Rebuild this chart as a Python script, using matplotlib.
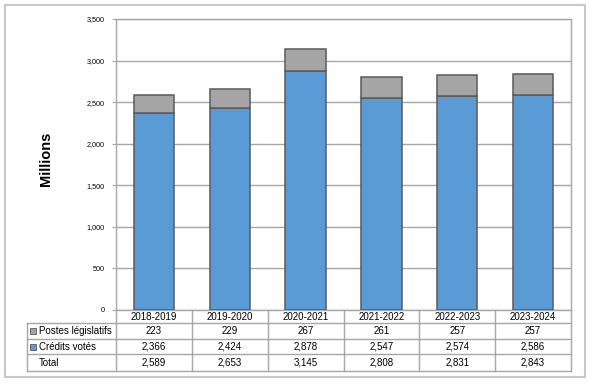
import matplotlib
matplotlib.use("Agg")
import matplotlib.pyplot as plt
from matplotlib.patches import Rectangle
from matplotlib.lines import Line2D
import numpy as np

plt.rcParams['font.family'] = ['Liberation Sans', 'DejaVu Sans']

years = ["2018-2019", "2019-2020", "2020-2021", "2021-2022", "2022-2023", "2023-2024"]
postes = [223, 229, 267, 261, 257, 257]
credits = [2366, 2424, 2878, 2547, 2574, 2586]
totals = [2589, 2653, 3145, 2808, 2831, 2843]
row_labels = ["Postes législatifs", "Crédits votés", "Total"]
yticks = [0, 500, 1000, 1500, 2000, 2500, 3000, 3500]

BLUE = "#5B9BD5"
GRAY = "#A5A5A5"
EDGE = "#5a5a5a"
LINE = "#a6a6a6"

W, H = 592, 384
fig = plt.figure(figsize=(W / 100, H / 100), dpi=100)

def fx(p):
    return p / W

def fy(p):
    return 1 - p / H

# outer frame
fig.patches.append(Rectangle((fx(5), fy(377)), fx(580), 372 / H, transform=fig.transFigure,
                             fill=False, edgecolor="#c8c8c8", linewidth=1.5))

L, R, T, B = 116, 571, 19, 310
ax = fig.add_axes([fx(L), fy(B), fx(R - L), (B - T) / H])
x = np.arange(len(years))
ax.bar(x, credits, width=0.53, color=BLUE, edgecolor=EDGE, linewidth=1.1, zorder=3)
ax.bar(x, postes, bottom=credits, width=0.53, color=GRAY, edgecolor=EDGE, linewidth=1.1, zorder=3)
ax.set_xlim(-0.5, len(years) - 0.5)
ax.set_ylim(0, 3500)
ax.set_yticks(yticks)
ax.set_yticklabels([f"{v:,}" for v in yticks], fontsize=5.2)
ax.tick_params(axis='y', length=3, color=LINE, width=0.8, pad=5)
ax.set_xticks([])
ax.yaxis.grid(True, color=LINE, linewidth=1.0, zorder=0)
for s in ax.spines.values():
    s.set_color(LINE)
    s.set_linewidth(1.0)
ax.set_ylabel("Millions", fontsize=10.5, fontweight='bold')
ax.yaxis.set_label_coords((53 - L) / (R - L), 0.52)

# table
cw = (R - L) / len(years)
rows_y = [310, 323, 339, 354, 371]
tc = fig.transFigure
lkw = dict(color=LINE, linewidth=1.0, transform=tc)
fig.add_artist(Line2D([fx(L), fx(R)], [fy(rows_y[1])] * 2, **lkw))
fig.add_artist(Line2D([fx(27), fx(L)], [fy(rows_y[1])] * 2, **lkw))
for yy in rows_y[2:]:
    fig.add_artist(Line2D([fx(27), fx(R)], [fy(yy)] * 2, **lkw))
fig.add_artist(Line2D([fx(27), fx(27)], [fy(rows_y[1]), fy(rows_y[-1])], **lkw))
for i in range(len(years) + 1):
    xx = L + i * cw
    fig.add_artist(Line2D([fx(xx), fx(xx)], [fy(rows_y[0]), fy(rows_y[-1])], **lkw))

fs = 7
for i, yr in enumerate(years):
    cx = L + (i + 0.5) * cw
    fig.text(fx(cx), fy((rows_y[0] + rows_y[1]) / 2), yr, ha='center', va='center', fontsize=fs)
    for r, vals in enumerate([postes, credits, totals]):
        cy = (rows_y[r + 1] + rows_y[r + 2]) / 2
        fig.text(fx(cx), fy(cy), f"{vals[i]:,}", ha='center', va='center', fontsize=fs)

sq_colors = [GRAY, BLUE, None]
for r, lab in enumerate(row_labels):
    cy = (rows_y[r + 1] + rows_y[r + 2]) / 2
    if sq_colors[r] is not None:
        fig.patches.append(Rectangle((fx(30), fy(cy + 3)), 6 / W, 6 / H, transform=tc,
                                     facecolor=sq_colors[r], edgecolor=EDGE, linewidth=0.6))
    fig.text(fx(39), fy(cy), lab, ha='left', va='center', fontsize=fs)

fig.savefig("out.png", dpi=100)
